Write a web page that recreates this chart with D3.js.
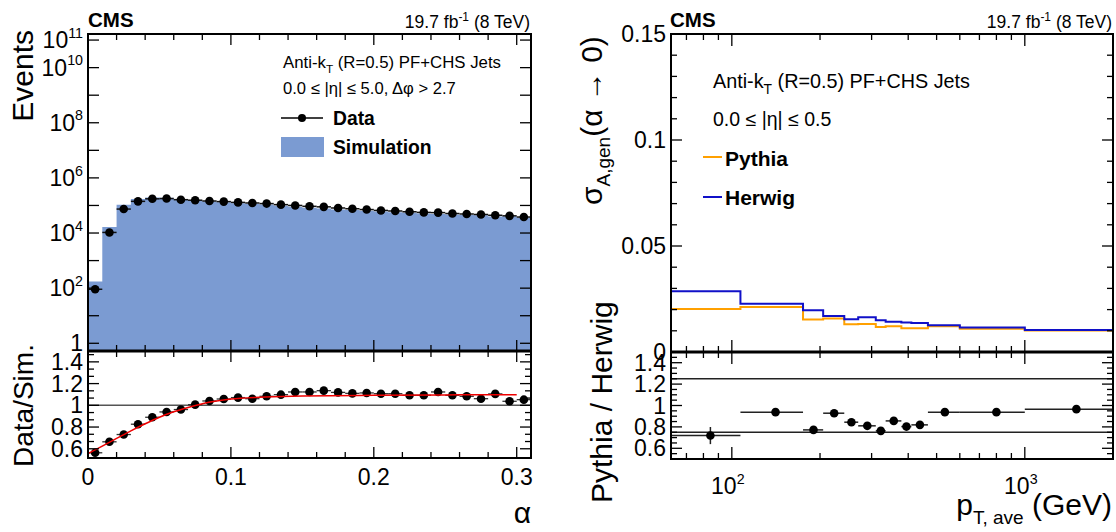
<!DOCTYPE html>
<html>
<head>
<meta charset="utf-8">
<script src="https://cdn.jsdelivr.net/npm/d3@7"></script>
<style>
  body { margin: 0; background: #fff; }
  svg text { font-family: "Liberation Sans", Arial, Helvetica, sans-serif; fill: #000; }
</style>
</head>
<body>
<svg id="chart" width="1116" height="532"></svg>
<script>
// ---- left: alpha distribution ----
var alphaLo = [0, 0.01, 0.02, 0.03, 0.04, 0.05, 0.06, 0.07, 0.08, 0.09, 0.10, 0.11, 0.12, 0.13, 0.14, 0.15,
               0.16, 0.17, 0.18, 0.19, 0.20, 0.21, 0.22, 0.23, 0.24, 0.25, 0.26, 0.27, 0.28, 0.29, 0.30];
var alphaWidth = 0.01;
var dataEvents = [91, 1.05e4, 7.4e4, 1.41e5, 1.74e5, 1.78e5, 1.62e5, 1.55e5, 1.45e5, 1.38e5, 1.29e5, 1.23e5,
                  1.17e5, 1.07e5, 1.0e5, 9.3e4, 8.9e4, 8.1e4, 7.6e4, 7.1e4, 6.6e4, 6.3e4, 5.9e4, 5.6e4,
                  5.5e4, 5.1e4, 4.9e4, 4.7e4, 4.4e4, 4.2e4, 3.8e4];
var simEvents = [174, 1.66e4, 1.07e5, 1.71e5, 1.96e5, 1.9e5, 1.69e5, 1.54e5, 1.39e5, 1.30e5, 1.2e5, 1.16e5,
                 1.08e5, 9.7e4, 8.9e4, 8.3e4, 7.8e4, 7.2e4, 6.8e4, 6.4e4, 6.0e4, 5.7e4, 5.4e4, 5.1e4,
                 4.9e4, 4.7e4, 4.5e4, 4.4e4, 4.0e4, 4.05e4, 3.6e4];
var dataSimRatio = [0.563, 0.664, 0.731, 0.826, 0.890, 0.939, 0.961, 1.006, 1.040, 1.058, 1.071, 1.061,
                    1.083, 1.098, 1.123, 1.123, 1.135, 1.119, 1.110, 1.114, 1.107, 1.107, 1.092, 1.092,
                    1.123, 1.092, 1.083, 1.061, 1.105, 1.037, 1.052];
var fitAlpha = [0, 0.01, 0.02, 0.03, 0.04, 0.05, 0.06, 0.07, 0.08, 0.09, 0.10, 0.12, 0.15, 0.20, 0.25, 0.30];
var fitRatio = [0.555, 0.625, 0.695, 0.765, 0.83, 0.89, 0.94, 0.98, 1.015, 1.04, 1.058, 1.075, 1.085, 1.092, 1.096, 1.098];
var eventsTicks = [1, 1e2, 1e4, 1e6, 1e8, 1e10, 1e11];

// ---- right: resolution vs pT ----
var ptEdges = [62, 107, 175, 205, 242, 270, 310, 335, 379, 410, 467, 600, 1000, 2000];
var pythiaSigma = [0.0203, 0.0212, 0.0153, 0.0158, 0.0131, 0.0132, 0.0118, 0.0121, 0.0112, 0.0112, 0.0121, 0.0110, 0.0101];
var herwigSigma = [0.0286, 0.0228, 0.0197, 0.0170, 0.0154, 0.0164, 0.0150, 0.0143, 0.0139, 0.0137, 0.0126, 0.0115, 0.0104];
var phRatio = [0.719, 0.938, 0.772, 0.928, 0.844, 0.81, 0.763, 0.856, 0.803, 0.819, 0.938, 0.938, 0.966];
var phRatioErr = [0.08, 0.02, 0.02, 0.03, 0.03, 0.03, 0.03, 0.03, 0.03, 0.03, 0.01, 0.01, 0.01];
var ratioTicks = [0.6, 0.8, 1, 1.2, 1.4];

(function(window, document, d3) {
    'use strict';

    var svg = d3.select('#chart');
    var FONT_TICK = 23, FONT_TITLE = 30;

    // frames
    var L = { x0: 88, x1: 531, top: 34, mid: 351, bot: 458 };
    var R = { x0: 671, x1: 1113, top: 34, mid: 352, bot: 459 };

    var xA = d3.scaleLinear().domain([0, 0.31]).range([L.x0, L.x1]);
    var yEv = d3.scaleLog().domain([Math.pow(10, -0.28), Math.pow(10, 11.22)]).range([L.mid, L.top]);
    var yR1 = d3.scaleLinear().domain([0.515, 1.5]).range([L.bot, L.mid]);

    var xP = d3.scaleLog().domain([62, 2000]).range([R.x0, R.x1]);
    var yS = d3.scaleLinear().domain([0, 0.15]).range([R.mid, R.top]);
    var yR2 = d3.scaleLinear().domain([0.5, 1.5]).range([R.bot, R.mid]);

    // draw tick marks along a straight edge
    function ticks(vals, scale, fixed, len, vertical) {
        var g = svg.append('g').attr('stroke', '#000').attr('stroke-width', 1.3);
        vals.forEach(function(v) {
            var p = scale(v);
            if (vertical) {
                g.append('line').attr('x1', fixed).attr('x2', fixed + len).attr('y1', p).attr('y2', p);
            } else {
                g.append('line').attr('x1', p).attr('x2', p).attr('y1', fixed).attr('y2', fixed + len);
            }
        });
    }

    function sup(sel, base, exp, size) {
        sel.append('tspan').text(base);
        sel.append('tspan').attr('font-size', size * 0.62).attr('dy', -size * 0.45).text(exp);
    }

    /** ================ LEFT UPPER ================ */
    var lastIdx = alphaLo.length - 1;
    var histPts = alphaLo.map(function(a, i) { return [a, simEvents[i]]; });
    histPts.push([alphaLo[lastIdx] + alphaWidth, simEvents[lastIdx]]);

    var histArea = d3.area()
        .curve(d3.curveStepAfter)
        .x(function(d) { return xA(d[0]); })
        .y0(yEv.range()[0])
        .y1(function(d) { return yEv(d[1]); });

    svg.append('path').datum(histPts).attr('d', histArea).attr('fill', '#7b9bd2');

    var gData = svg.append('g');
    alphaLo.forEach(function(a, i) {
        var y = yEv(dataEvents[i]);
        gData.append('line')
            .attr('x1', xA(a)).attr('x2', xA(a + alphaWidth))
            .attr('y1', y).attr('y2', y)
            .attr('stroke', '#111').attr('stroke-width', 1.5);
        gData.append('circle').attr('cx', xA(a + alphaWidth / 2)).attr('cy', y).attr('r', 4.3).attr('fill', '#000');
    });

    /** ================ LEFT LOWER ================ */
    svg.append('line')
        .attr('x1', L.x0).attr('x2', L.x1).attr('y1', yR1(1)).attr('y2', yR1(1))
        .attr('stroke', '#555').attr('stroke-width', 1.5);

    var gRat = svg.append('g');
    alphaLo.forEach(function(a, i) {
        var y = yR1(dataSimRatio[i]);
        gRat.append('line')
            .attr('x1', xA(a)).attr('x2', xA(a + alphaWidth))
            .attr('y1', y).attr('y2', y)
            .attr('stroke', '#333').attr('stroke-width', 1.3);
    });

    var fitLine = d3.line()
        .curve(d3.curveMonotoneX)
        .x(function(d, i) { return xA(fitAlpha[i]); })
        .y(function(d, i) { return yR1(fitRatio[i]); });
    svg.append('path').datum(fitAlpha).attr('d', fitLine)
        .attr('fill', 'none').attr('stroke', '#ee0000').attr('stroke-width', 1.5);

    alphaLo.forEach(function(a, i) {
        gRat.append('circle').attr('cx', xA(a + alphaWidth / 2)).attr('cy', yR1(dataSimRatio[i])).attr('r', 4.3).attr('fill', '#000');
    });

    /** ================ RIGHT UPPER ================ */
    function stepPts(vals) {
        var pts = [[ptEdges[0], 0]];
        vals.forEach(function(v, i) { pts.push([ptEdges[i], v]); });
        pts.push([ptEdges[ptEdges.length - 1], vals[vals.length - 1]]);
        pts.push([ptEdges[ptEdges.length - 1], 0]);
        return pts;
    }
    var stepLine = d3.line()
        .curve(d3.curveStepAfter)
        .x(function(d) { return xP(d[0]); })
        .y(function(d) { return yS(d[1]); });

    svg.append('path').datum(stepPts(pythiaSigma)).attr('d', stepLine)
        .attr('fill', 'none').attr('stroke', '#ffa000').attr('stroke-width', 2);
    svg.append('path').datum(stepPts(herwigSigma)).attr('d', stepLine)
        .attr('fill', 'none').attr('stroke', '#1010c8').attr('stroke-width', 2);

    /** ================ RIGHT LOWER ================ */
    [0.75, 1.25].forEach(function(v) {
        svg.append('line')
            .attr('x1', R.x0).attr('x2', R.x1).attr('y1', yR2(v)).attr('y2', yR2(v))
            .attr('stroke', '#222').attr('stroke-width', 1.3);
    });
    var gPH = svg.append('g');
    phRatio.forEach(function(r, i) {
        var lo = ptEdges[i], hi = ptEdges[i + 1], c = (lo + hi) / 2;
        gPH.append('line').attr('x1', xP(lo)).attr('x2', xP(hi)).attr('y1', yR2(r)).attr('y2', yR2(r))
            .attr('stroke', '#222').attr('stroke-width', 1.5);
        gPH.append('line').attr('x1', xP(c)).attr('x2', xP(c))
            .attr('y1', yR2(r - phRatioErr[i])).attr('y2', yR2(r + phRatioErr[i]))
            .attr('stroke', '#222').attr('stroke-width', 1.5);
        gPH.append('circle').attr('cx', xP(c)).attr('cy', yR2(r)).attr('r', 4.3).attr('fill', '#000');
    });

    /** ================ FRAMES & TICKS ================ */
    [L, R].forEach(function(P) {
        svg.append('rect').attr('x', P.x0).attr('y', P.top).attr('width', P.x1 - P.x0).attr('height', P.bot - P.top)
            .attr('fill', 'none').attr('stroke', '#000').attr('stroke-width', 2);
        svg.append('line').attr('x1', P.x0).attr('x2', P.x1).attr('y1', P.mid).attr('y2', P.mid)
            .attr('stroke', '#000').attr('stroke-width', 3);
    });

    // left x ticks
    var aMinor = [0.02, 0.04, 0.06, 0.08, 0.12, 0.14, 0.16, 0.18, 0.22, 0.24, 0.26, 0.28];
    var aMajor = [0.1, 0.2, 0.3];
    [[L.top, 1], [L.mid, -1], [L.mid, 1], [L.bot, -1]].forEach(function(e) {
        ticks(aMinor, xA, e[0], 6 * e[1], false);
        ticks(aMajor, xA, e[0], 11 * e[1], false);
    });
    // left y ticks
    var decades = d3.range(0, 12).map(function(k) { return Math.pow(10, k); });
    ticks(decades, yEv, L.x0, 11, true);
    ticks(decades, yEv, L.x1, -11, true);
    var r1Minor = [];
    [0.6, 0.8, 1.0, 1.2].forEach(function(v) { r1Minor.push(v + 0.2 / 3, v + 0.4 / 3); });
    r1Minor.push(1.4 + 0.2 / 3);
    ticks(ratioTicks, yR1, L.x0, 11, true);
    ticks(r1Minor, yR1, L.x0, 6, true);
    ticks(ratioTicks, yR1, L.x1, -11, true);
    ticks(r1Minor, yR1, L.x1, -6, true);

    // right x ticks
    var pMinor = [70, 80, 90, 200, 300, 400, 500, 600, 700, 800, 900];
    var pMajor = [100, 1000];
    [[R.top, 1], [R.mid, -1], [R.mid, 1], [R.bot, -1]].forEach(function(e) {
        ticks(pMinor, xP, e[0], 6 * e[1], false);
        ticks(pMajor, xP, e[0], 12 * e[1], false);
    });
    var sMinor = [0.01, 0.02, 0.03, 0.04, 0.06, 0.07, 0.08, 0.09, 0.11, 0.12, 0.13, 0.14];
    var sMajor = [0.05, 0.1];
    ticks(sMinor, yS, R.x0, 6, true);
    ticks(sMajor, yS, R.x0, 11, true);
    ticks(sMinor, yS, R.x1, -6, true);
    ticks(sMajor, yS, R.x1, -11, true);
    var r2Minor = [0.55, 0.65, 0.7, 0.75, 0.85, 0.9, 0.95, 1.05, 1.1, 1.15, 1.25, 1.3, 1.35, 1.45];
    ticks(ratioTicks, yR2, R.x0, 11, true);
    ticks(r2Minor, yR2, R.x0, 6, true);
    ticks(ratioTicks, yR2, R.x1, -11, true);
    ticks(r2Minor, yR2, R.x1, -6, true);

    /** ================ LABELS ================ */
    var t;
    var yOff = 8;
    // left upper y labels
    eventsTicks.forEach(function(v) {
        var e = Math.round(Math.log10(v));
        t = svg.append('text').attr('x', 83).attr('y', yEv(v) + yOff).attr('text-anchor', 'end').attr('font-size', FONT_TICK);
        if (e === 0) { t.text('1'); } else { sup(t, '10', String(e), FONT_TICK); }
    });
    ratioTicks.forEach(function(v) {
        svg.append('text').attr('x', 83).attr('y', yR1(v) + yOff).attr('text-anchor', 'end')
            .attr('font-size', FONT_TICK).text(String(v));
        svg.append('text').attr('x', 666).attr('y', yR2(v) + yOff).attr('text-anchor', 'end')
            .attr('font-size', FONT_TICK).text(String(v));
    });
    [0, 0.1, 0.2, 0.3].forEach(function(v) {
        svg.append('text').attr('x', xA(v)).attr('y', 485).attr('text-anchor', 'middle')
            .attr('font-size', FONT_TICK).text(String(v));
    });
    [0, 0.05, 0.1, 0.15].forEach(function(v) {
        svg.append('text').attr('x', 666).attr('y', yS(v) + yOff).attr('text-anchor', 'end')
            .attr('font-size', FONT_TICK).text(String(v));
    });
    [[100, '2'], [1000, '3']].forEach(function(d) {
        t = svg.append('text').attr('x', xP(d[0]) - 4).attr('y', 494).attr('text-anchor', 'middle').attr('font-size', FONT_TICK);
        sup(t, '10', d[1], FONT_TICK);
    });

    // axis titles
    svg.append('text').attr('transform', 'translate(33,30) rotate(-90)').attr('text-anchor', 'end')
        .attr('font-size', FONT_TITLE).text('Events');
    svg.append('text').attr('transform', 'translate(33,467) rotate(-90)').attr('text-anchor', 'start')
        .attr('font-size', 28).text('Data/Sim.');
    svg.append('text').attr('x', 531).attr('y', 523).attr('text-anchor', 'end')
        .attr('font-size', FONT_TITLE).text('\u03b1');

    t = svg.append('text').attr('transform', 'translate(602,205) rotate(-90)').attr('text-anchor', 'start')
        .attr('font-size', FONT_TITLE);
    t.append('tspan').text('\u03c3');
    t.append('tspan').attr('font-size', 19).attr('dy', 8).text('A,gen');
    t.append('tspan').attr('dy', -8).text('(\u03b1 \u2192 0)');

    svg.append('text').attr('transform', 'translate(612,503) rotate(-90)').attr('text-anchor', 'start')
        .attr('font-size', FONT_TITLE).text('Pythia / Herwig');

    t = svg.append('text').attr('x', 1112).attr('y', 515).attr('text-anchor', 'end').attr('font-size', FONT_TITLE);
    t.append('tspan').text('p');
    t.append('tspan').attr('font-size', 19).attr('dy', 9).text('T, ave');
    t.append('tspan').attr('dy', -9).text(' (GeV)');

    // CMS & lumi
    [[L, 88], [R, 670]].forEach(function(d) {
        svg.append('text').attr('x', d[1]).attr('y', 27).attr('font-size', 20.5).attr('font-weight', 'bold').text('CMS');
        t = svg.append('text').attr('x', d[0].x1 - 1).attr('y', 28).attr('text-anchor', 'end').attr('font-size', 17.5);
        t.append('tspan').text('19.7 fb');
        t.append('tspan').attr('font-size', 12).attr('dy', -7).text('-1');
        t.append('tspan').attr('dy', 7).text(' (8 TeV)');
    });

    function jetText(x, y, size) {
        var tt = svg.append('text').attr('x', x).attr('y', y).attr('font-size', size);
        tt.append('tspan').text('Anti-k');
        tt.append('tspan').attr('font-size', size * 0.7).attr('dy', size * 0.3).text('T');
        tt.append('tspan').attr('dy', -size * 0.3).text(' (R=0.5) PF+CHS Jets');
    }
    jetText(283, 68, 16.8);
    svg.append('text').attr('x', 283).attr('y', 94).attr('font-size', 16.6)
        .text('0.0 \u2264 |\u03b7| \u2264 5.0, \u0394\u03c6 > 2.7');
    jetText(713, 88, 19.8);
    svg.append('text').attr('x', 713).attr('y', 126).attr('font-size', 19.5)
        .text('0.0 \u2264 |\u03b7| \u2264 0.5');

    // legends
    svg.append('line').attr('x1', 281).attr('x2', 323).attr('y1', 118).attr('y2', 118).attr('stroke', '#000').attr('stroke-width', 1.5);
    svg.append('circle').attr('cx', 302).attr('cy', 118).attr('r', 4).attr('fill', '#000');
    svg.append('text').attr('x', 333).attr('y', 125).attr('font-size', 19.3).attr('font-weight', 'bold').text('Data');
    svg.append('rect').attr('x', 281).attr('y', 137).attr('width', 43).attr('height', 20).attr('fill', '#7b9bd2');
    svg.append('text').attr('x', 333).attr('y', 154).attr('font-size', 19.3).attr('font-weight', 'bold').text('Simulation');

    svg.append('line').attr('x1', 703).attr('x2', 722).attr('y1', 157).attr('y2', 157).attr('stroke', '#ffa000').attr('stroke-width', 2);
    svg.append('text').attr('x', 725).attr('y', 166).attr('font-size', 21).attr('font-weight', 'bold').text('Pythia');
    svg.append('line').attr('x1', 703).attr('x2', 722).attr('y1', 197).attr('y2', 197).attr('stroke', '#1010c8').attr('stroke-width', 2);
    svg.append('text').attr('x', 725).attr('y', 205).attr('font-size', 21).attr('font-weight', 'bold').text('Herwig');

}(window, document, window.d3));
</script>
</body>
</html>
